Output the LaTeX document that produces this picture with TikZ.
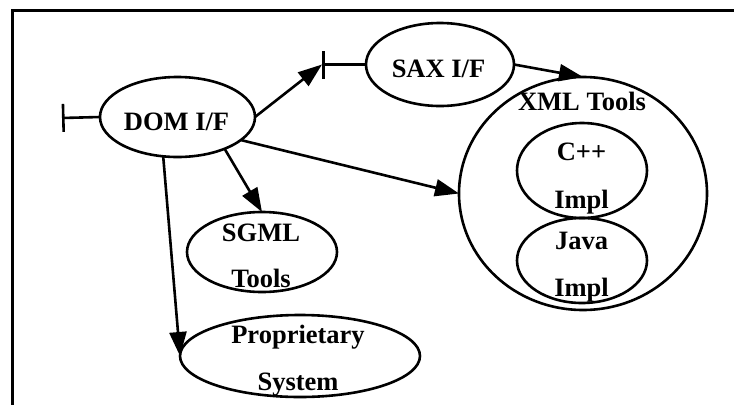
\documentclass[tikz,border=0pt]{standalone}
\usepackage{fontspec}
\setmainfont{Liberation Serif}
\usetikzlibrary{shapes.geometric,arrows.meta}
\begin{document}
\begin{tikzpicture}[x=1pt,y=-1pt,
  oval/.style={ellipse,draw,line width=2.6pt,inner sep=0pt,outer sep=0pt},
  lbl/.style={anchor=base,inner sep=0pt,font=\fontsize{26.5}{30}\selectfont\bfseries},
  conn/.style={line width=2.6pt,-{Triangle[length=24pt,width=17pt]}},
  stub/.style={line width=2.6pt,{Bar[width=28pt]}-},
]
\useasboundingbox (0,0) rectangle (734,405);
% frame
\draw[line width=3pt] (734,10.5) -- (12,10.5) -- (12,405);

% ovals
\node[oval,minimum width=155pt,minimum height=80pt] (dom) at (177.5,117) {};
\node[oval,minimum width=148pt,minimum height=83pt] (sax) at (440,64.5) {};
\node[oval,minimum width=248pt,minimum height=233pt] (xml) at (583,193.5) {};
\node[oval,minimum width=130pt,minimum height=95pt] (cpp) at (582,170.5) {};
\node[oval,minimum width=130pt,minimum height=85pt] (java) at (582,260.5) {};
\node[oval,minimum width=150pt,minimum height=80pt] (sgml) at (262,252) {};
\node[oval,minimum width=240pt,minimum height=82pt] (prop) at (300,356) {};

% labels
\node[lbl] (domA) at (176.5,130) {DOM I/F};
\node[lbl] (saxA) at (438.5,77) {SAX I/F};
\node[lbl] (xmlA) at (582,110) {XML Tools};
\node[lbl] (cppA) at (581.5,160) {C++};
\node[lbl] (cppB) at (581.5,208) {Impl};
\node[lbl] (javaA) at (581.5,249) {Java};
\node[lbl] (javaB) at (581.5,296) {Impl};
\node[lbl] (sgmlA) at (261,241) {SGML};
\node[lbl] (sgmlB) at (261,287) {Tools};
\node[lbl] (propA) at (298,343) {Proprietary};
\node[lbl] (propB) at (298,390) {System};

% interface stubs
\coordinate (domstub) at (62,118);
\coordinate (saxstub) at (322,64.5);
\draw[stub] (domstub) -- (dom.west);
\draw[stub] (saxstub) -- (sax.west);

% connectors
\draw[conn] (dom.east) -- (saxstub);
\draw[conn] (sax.east) -- (xml.north);
\draw[conn] (dom.-20) -- (xml.west);
\draw[conn] (dom.-34) -- (sgml.north);
\draw[conn] (dom.-110) -- (prop.west);
\end{tikzpicture}
\end{document}
